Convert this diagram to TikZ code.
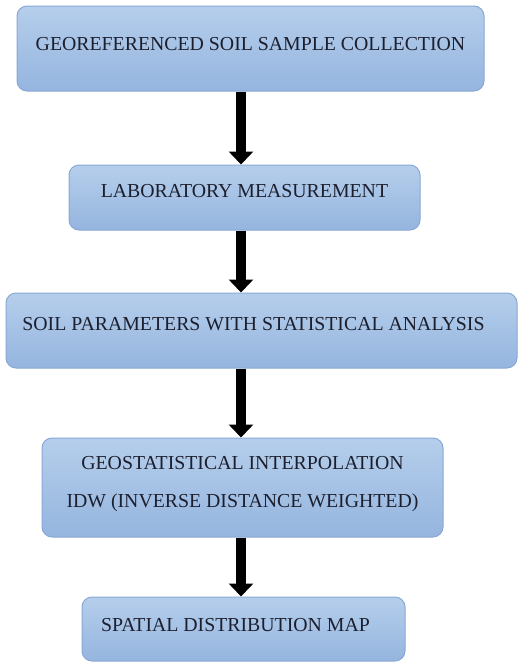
\documentclass[tikz,border=0pt]{standalone}
\usepackage{fontspec}
\setmainfont{Liberation Serif}
\usetikzlibrary{arrows.meta,positioning}

\definecolor{boxtop}{HTML}{B5CEEB}
\definecolor{boxbot}{HTML}{95B5DF}
\definecolor{boxline}{HTML}{89A8D4}
\definecolor{steptext}{HTML}{1C1F2E}

\tikzset{
  stepbox/.style={draw=boxline, line width=1pt, rounded corners=10pt,
    top color=boxtop, bottom color=boxbot, inner xsep=0pt, inner ysep=0pt,
    font=\fontsize{19.8}{38}\selectfont, text=steptext, align=center},
  flow/.style={line width=10pt, -{Triangle[width=24pt,length=13pt]}}
}

\begin{document}
\begin{tikzpicture}[x=1pt,y=-1pt]
  \useasboundingbox (0,0) rectangle (518,662);

  \node[stepbox, minimum width=467pt, text height=44pt, text depth=41pt] (collect) at (250.5,48.5)
    {GEOREFERENCED SOIL SAMPLE COLLECTION};
  \node[stepbox, minimum width=351pt, text height=32pt, text depth=33pt] (lab) at (244.5,197.5)
    {LABORATORY MEASUREMENT};
  \node[stepbox, minimum width=511pt, text height=37pt, text depth=38pt] (stats) at (261.5,330.5)
    {\hspace*{-16pt}SOIL PARAMETERS WITH STATISTICAL ANALYSIS};
  \node[stepbox, minimum width=401pt, text height=69pt, text depth=30pt] (idw) at (242.5,487.5)
    {GEOSTATISTICAL INTERPOLATION\\IDW (INVERSE DISTANCE WEIGHTED)};
  \node[stepbox, minimum width=323pt, text height=34pt, text depth=30pt] (map) at (243.5,629)
    {\hspace*{-16pt}SPATIAL DISTRIBUTION MAP};

  % arrows
  \coordinate (ax) at (241,0);
  \draw[flow] (collect.south -| ax) -- (lab.north -| ax);
  \draw[flow] (lab.south -| ax) -- (stats.north -| ax);
  \draw[flow] (stats.south -| ax) -- (idw.north -| ax);
  \draw[flow] (idw.south -| ax) -- (map.north -| ax);
\end{tikzpicture}
\end{document}
